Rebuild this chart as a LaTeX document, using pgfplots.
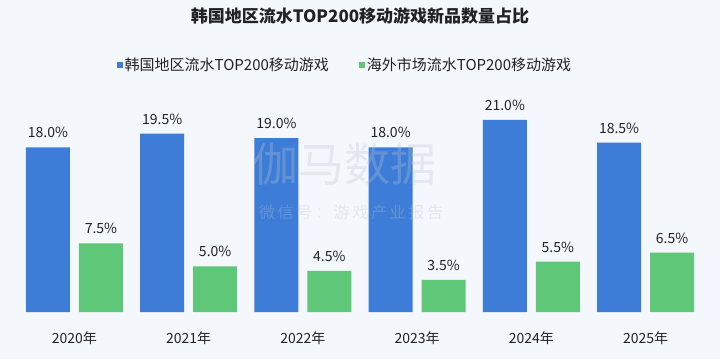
\documentclass[border=0pt]{standalone}
\usepackage{fontspec}
\setmainfont{Noto Sans CJK SC}
\usepackage{pgfplots}
\pgfplotsset{compat=1.18}
\definecolor{bgc}{RGB}{244,247,252}
\definecolor{cblue}{RGB}{61,125,216}
\definecolor{cgreen}{RGB}{94,200,120}
\definecolor{txt}{RGB}{34,34,34}
\definecolor{wm}{RGB}{190,196,206}
\begin{document}
\begin{tikzpicture}[x=1pt,y=1pt]
\fill[bgc] (-17.3,-47) rectangle (702.7,312);
\begin{axis}[
  at={(0,0)}, anchor=south west,
  scale only axis, width=685.4pt, height=228.75pt,
  xmin=-0.5, xmax=5.5, ymin=0, ymax=25,
  enlargelimits=false,
  /pgf/number format/assume math mode=true,
  axis x line=bottom, axis y line=none,
  x axis line style={draw=none},
  xtick={0,1,2,3,4,5},
  xticklabels={2020年,2021年,2022年,2023年,2024年,2025年},
  xtick style={draw=none},
  xticklabel style={anchor=center, yshift=-22pt, font=\fontsize{14}{16}\selectfont, text=txt},
  ybar, bar width=44pt,
  nodes near coords={\pgfmathprintnumber[fixed,fixed zerofill,precision=1,assume math mode=true]{\pgfplotspointmeta}\%},
  nodes near coords style={anchor=south, inner sep=0pt, yshift=9pt, font=\fontsize{14}{16}\selectfont, text=txt},
  title={韩国地区流水TOP200移动游戏新品数量占比},
  title style={at={(0.5,1)}, anchor=center, yshift=61pt, font=\bfseries\fontsize{17}{19}\selectfont, text=txt},
  legend columns=2,
  legend style={at={(0.478,1.079)}, anchor=center, draw=none, fill=none,
    font=\fontsize{15}{17}\selectfont, text=txt,
    /tikz/every even column/.append style={column sep=28pt}},
  legend image code/.code={\fill[#1] (0pt,-3pt) rectangle (6pt,3pt);},
  clip=false,
]
\addplot[fill=cblue, draw=none, bar shift=-26.5pt] coordinates {(0,18.0) (1,19.5) (2,19.0) (3,18.0) (4,21.0) (5,18.5)};
\addlegendentry{韩国地区流水TOP200移动游戏}
\addplot[fill=cgreen, draw=none, bar shift=26.5pt] coordinates {(0,7.5) (1,5.0) (2,4.5) (3,3.5) (4,5.5) (5,6.5)};
\addlegendentry{海外市场流水TOP200移动游戏}
\node[text=wm, text opacity=0.3, font=\fontsize{46}{48}\selectfont, inner sep=0pt] at (rel axis cs:0.478,0.645) {伽马数据};
\node[text=wm, text opacity=0.3, font=\fontsize{16}{18}\selectfont, inner sep=0pt] at (rel axis cs:0.487,0.433) {微\,信\,号\,：\,游\,戏\,产\,业\,报\,告};
\end{axis}
\end{tikzpicture}
\end{document}
